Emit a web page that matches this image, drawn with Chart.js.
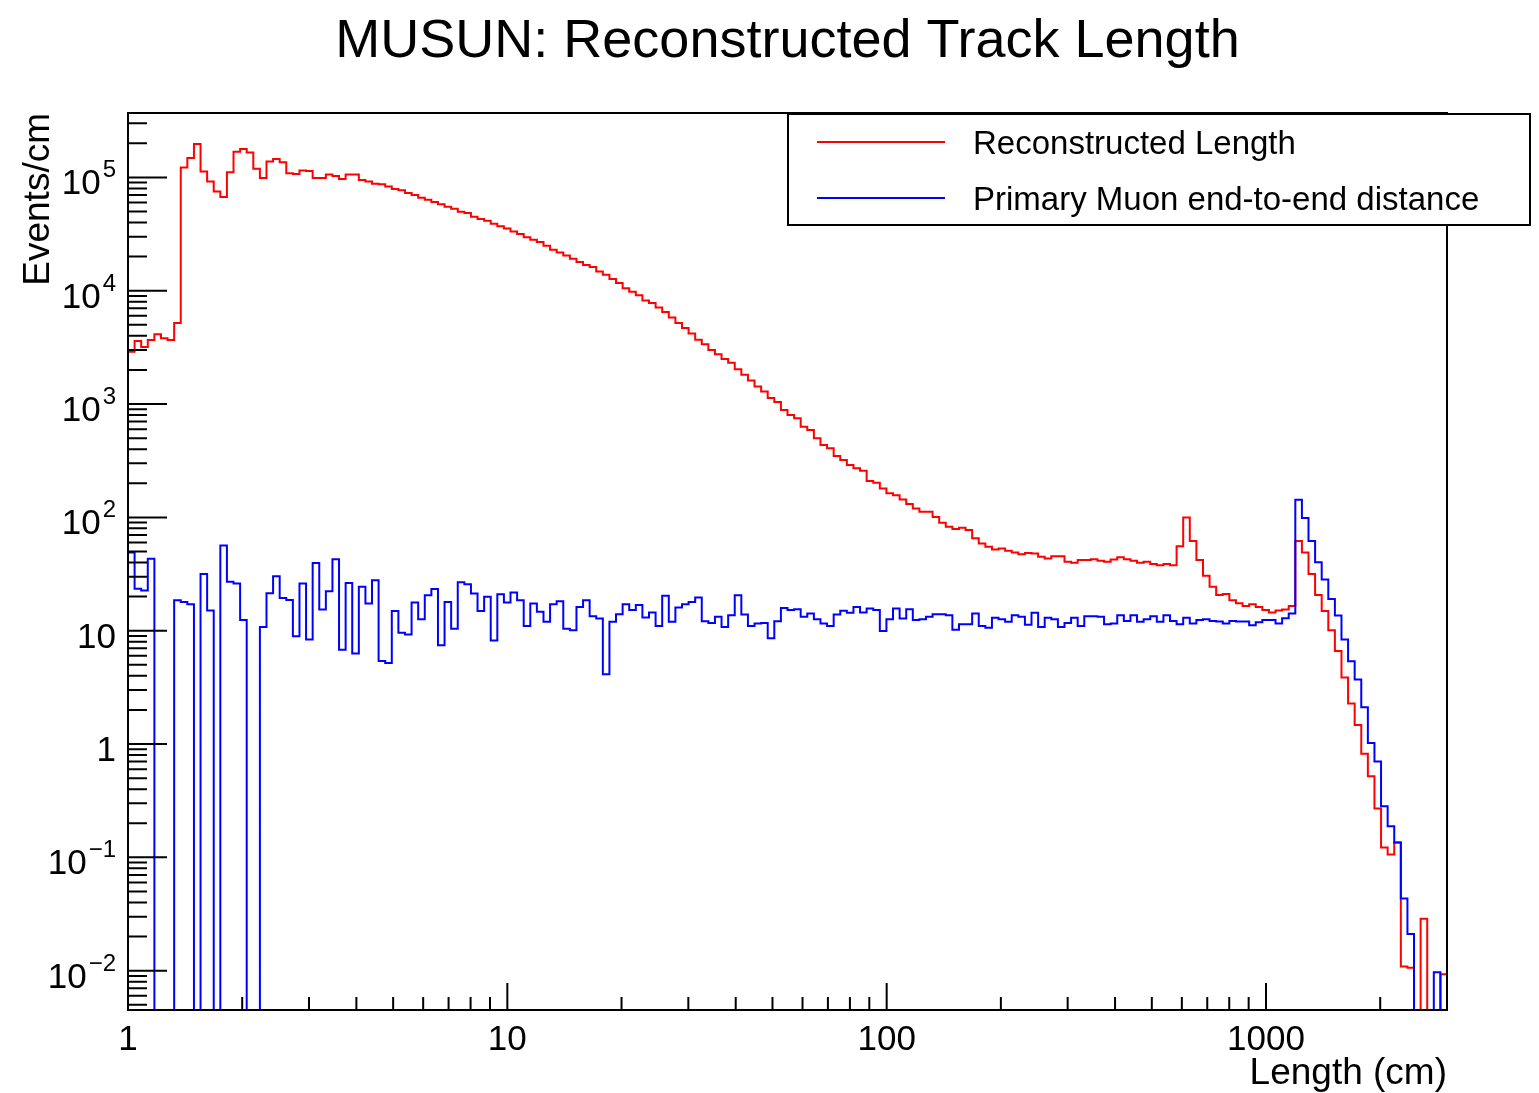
<!DOCTYPE html>
<html><head><meta charset="utf-8">
<script src="https://cdn.jsdelivr.net/npm/chart.js@4/dist/chart.umd.min.js"></script>
<style>html,body{margin:0;padding:0;background:#fff}canvas{display:block}</style>
</head><body>
<canvas id="c" width="1539" height="1093"></canvas>
<script>
const TITLE = "MUSUN: Reconstructed Track Length";
const X_TITLE = "Length (cm)";
const Y_TITLE = "Events/cm";
const SERIES_NAMES = ["Reconstructed Length", "Primary Muon end-to-end distance"];
const SERIES_COLORS = ["#ff0000", "#0000ff"];
const X_MIN = 1, X_MAX = 3000, N_BINS = 200;
const Y_MIN = 0.0045, Y_MAX = 3.7e5;
const X_TICK_VALUES = [1, 10, 100, 1000];
const X_TICK_LABELS = ["1", "10", "100", "1000"];
const Y_TICK_EXPONENTS = [-2, -1, 0, 1, 2, 3, 4, 5];

// Events/cm per logarithmic bin (200 bins from 1 to 3000 cm)
const reconstructed = [
2900,3600,3180,3680,4140,3810,3680,5180,122000,148000,
197000,113000,92000,75000,67000,111000,168000,178000,166000,119000,
99000,138000,145000,136000,109000,107000,115000,114000,99000,99000,
106000,103000,97000,106000,106000,95000,92000,88000,87000,83000,
79000,77000,73000,70000,66000,63500,60700,58000,55000,53000,
49700,48400,45000,43000,41400,39000,37000,35400,33300,31600,
29700,28200,26900,24900,23000,21700,20500,19100,17900,16900,
16200,14800,13800,12700,11700,10500,9800,9100,8200,7800,
7100,6500,5800,5200,4700,4200,3700,3370,3000,2750,
2500,2320,2030,1810,1610,1430,1290,1130,1040,887,
802,749,631,590,499,435,407,348,321,290,
271,258,209,202,180,163,157,144,131,120,
112,112,101,89.5,82.6,78.8,80.9,77.3,65.3,58.9,
55,52.2,53.2,50.7,49.1,47.4,48.6,48.1,44.9,43.4,
45.5,45.5,40.6,39.7,42,42,42.8,41.4,40.6,42.6,
44.4,42.8,41.4,39.7,40.6,38.7,37.9,38.7,37.9,55.7,
100,62,42,30.5,24.4,20.7,21.1,18.6,17.5,16.5,
17.1,16.2,15.2,14.5,15.1,15.4,16.5,61.8,49,31.7,
20.7,14.9,10.1,6.63,3.87,2.28,1.47,0.82,0.52,0.27,
0.122,0.106,0.135,0.0109,0.0106,0,0.0288,0,0,0.0093
];
const primaryMuon = [
49,23.5,22.6,43.1,0,0,0,18.6,17.9,17.1,
0,31.7,15.1,0,56.4,27,26.1,12.4,0,0,
10.8,21.4,30.3,19.4,18.7,8.95,26.1,8.36,39.6,15.4,
22.3,42.8,6.8,26.4,6.28,24.4,17.4,27.9,5.4,5.2,
14.9,9.6,9.25,17.7,12.6,20.6,23.3,7.45,17.9,10.4,
26.7,25.7,21.3,14.9,19.9,8.2,21,17.7,21.7,18.6,
11,17.4,14.7,12,17.1,18.2,10.4,10.1,16.2,18.6,
13.4,12.8,4.13,12,14,17.1,15.2,16.9,13.1,14.5,
11,20.3,12,16,17.1,17.9,19.6,12.1,11.7,13.3,
10.8,13.7,20.6,13.9,11,11.6,11.7,8.6,12.1,15.9,
15.2,15.5,13.3,14.2,12.6,11.6,11,13.9,15,14.4,
16.2,14.5,15.7,15.2,9.95,12.6,15.7,12.8,15.5,12.4,
12.6,13.3,14,14,13.7,10.2,11.4,11.4,14.2,11,
10.6,13,12.6,12,13.7,13.3,11.3,14.4,10.8,13,
12.6,10.8,11.7,13,11,13.4,13.4,13.3,11.4,11.6,
13.7,12.2,13.7,12,12.6,13.4,12,13.7,12.2,11.4,
13,11.6,12.4,12.6,12.2,12.05,11.6,12.2,12.05,12.05,
11.2,11.9,12.4,12.4,11.6,12.9,14.2,143,98.9,61.8,
40.2,28.3,19,13.6,8.36,5.37,3.72,2.11,1.02,0.70,
0.282,0.188,0.135,0.0434,0.0211,0,0,0,0.0097,0
];

// logarithmic bin edges
const binEdges = [];
for (let i = 0; i <= N_BINS; i++) {
  binEdges.push(Math.pow(10, Math.log10(X_MIN) + (Math.log10(X_MAX) - Math.log10(X_MIN)) * i / N_BINS));
}
function histPoints(vals) {
  const pts = [{x: binEdges[0], y: Y_MIN}];
  vals.forEach((v, i) => pts.push({x: binEdges[i], y: v > 0 ? v : Y_MIN}));
  const last = vals[vals.length - 1];
  pts.push({x: binEdges[N_BINS], y: last > 0 ? last : Y_MIN});
  pts.push({x: binEdges[N_BINS], y: Y_MIN});
  return pts;
}

const FONT = '"Liberation Sans", Arial, Helvetica, sans-serif';

const rootStyle = {
  id: 'rootStyle',
  beforeDraw(chart) {
    const ctx = chart.ctx;
    ctx.save();
    ctx.fillStyle = '#fff';
    ctx.fillRect(0, 0, chart.width, chart.height);
    ctx.restore();
  },
  afterDraw(chart) {
    const ctx = chart.ctx;
    const a = chart.chartArea;
    const xs = chart.scales.x, ys = chart.scales.y;
    ctx.save();
    ctx.strokeStyle = '#000';
    ctx.fillStyle = '#000';
    ctx.lineWidth = 2;
    // frame
    ctx.strokeRect(a.left, a.top, a.right - a.left, a.bottom - a.top);
    // x ticks
    ctx.beginPath();
    for (let e = 0; e <= 4; e++) {
      for (let k = 1; k <= 9; k++) {
        const v = k * Math.pow(10, e);
        if (v < X_MIN || v > X_MAX) continue;
        const px = xs.getPixelForValue(v);
        const len = k === 1 ? 27 : 13;
        ctx.moveTo(px, a.bottom);
        ctx.lineTo(px, a.bottom - len);
      }
    }
    // y ticks
    for (let e = -3; e <= 5; e++) {
      for (let k = 1; k <= 9; k++) {
        const v = k * Math.pow(10, e);
        if (v < Y_MIN || v > Y_MAX) continue;
        const py = ys.getPixelForValue(v);
        const len = k === 1 ? 39 : 19;
        ctx.moveTo(a.left, py);
        ctx.lineTo(a.left + len, py);
      }
    }
    ctx.stroke();
    // x labels
    ctx.font = '35px ' + FONT;
    ctx.textAlign = 'center';
    ctx.textBaseline = 'alphabetic';
    X_TICK_VALUES.forEach((v, i) => {
      ctx.fillText(X_TICK_LABELS[i], xs.getPixelForValue(v), a.bottom + 40);
    });
    // y labels
    const rightEdge = a.left - 12;
    Y_TICK_EXPONENTS.forEach(e => {
      const py = ys.getPixelForValue(Math.pow(10, e));
      const base = py + 17;
      if (e === 0 || e === 1) {
        ctx.font = '35px ' + FONT;
        ctx.textAlign = 'right';
        ctx.fillText(e === 0 ? '1' : '10', rightEdge, base);
      } else {
        const sup = e < 0 ? '\u2212' + (-e) : String(e);
        ctx.font = '24px ' + FONT;
        const sw = ctx.measureText(sup).width;
        ctx.textAlign = 'right';
        ctx.fillText(sup, rightEdge, base - 17);
        ctx.font = '35px ' + FONT;
        ctx.fillText('10', rightEdge - sw - 2, base);
      }
    });
    // axis titles
    ctx.font = '37px ' + FONT;
    ctx.textAlign = 'right';
    ctx.fillText(X_TITLE, a.right, 1084);
    ctx.save();
    ctx.translate(49, a.top);
    ctx.rotate(-Math.PI / 2);
    ctx.textAlign = 'right';
    ctx.fillText(Y_TITLE, 0, 0);
    ctx.restore();
    // title
    ctx.font = '54px ' + FONT;
    ctx.textAlign = 'center';
    ctx.fillText(TITLE, (a.left + a.right) / 2, 57);
    // legend
    ctx.fillStyle = '#fff';
    ctx.fillRect(788, 114, 742, 111);
    ctx.strokeStyle = '#000';
    ctx.lineWidth = 2;
    ctx.strokeRect(788, 114, 742, 111);
    const rowsY = [142, 198];
    SERIES_NAMES.forEach((name, i) => {
      ctx.strokeStyle = SERIES_COLORS[i];
      ctx.beginPath();
      ctx.moveTo(817, rowsY[i]);
      ctx.lineTo(945, rowsY[i]);
      ctx.stroke();
      ctx.fillStyle = '#000';
      ctx.font = '33px ' + FONT;
      ctx.textAlign = 'left';
      ctx.fillText(name, 973, rowsY[i] + 12);
    });
    ctx.restore();
  }
};

new Chart(document.getElementById('c'), {
  type: 'line',
  data: {
    datasets: [
      {label: SERIES_NAMES[0], data: histPoints(reconstructed), borderColor: SERIES_COLORS[0], borderWidth: 2, stepped: true, pointRadius: 0, fill: false, order: 2},
      {label: SERIES_NAMES[1], data: histPoints(primaryMuon), borderColor: SERIES_COLORS[1], borderWidth: 2, stepped: true, pointRadius: 0, fill: false, order: 1}
    ]
  },
  options: {
    responsive: false,
    animation: false,
    devicePixelRatio: 1,
    parsing: false,
    layout: {padding: {left: 128, top: 113, right: 92, bottom: 83}},
    plugins: {legend: {display: false}, title: {display: false}, tooltip: {enabled: false}},
    scales: {
      x: {type: 'logarithmic', min: X_MIN, max: X_MAX, display: false},
      y: {type: 'logarithmic', min: Y_MIN, max: Y_MAX, display: false}
    }
  },
  plugins: [rootStyle]
});
</script>
</body></html>
